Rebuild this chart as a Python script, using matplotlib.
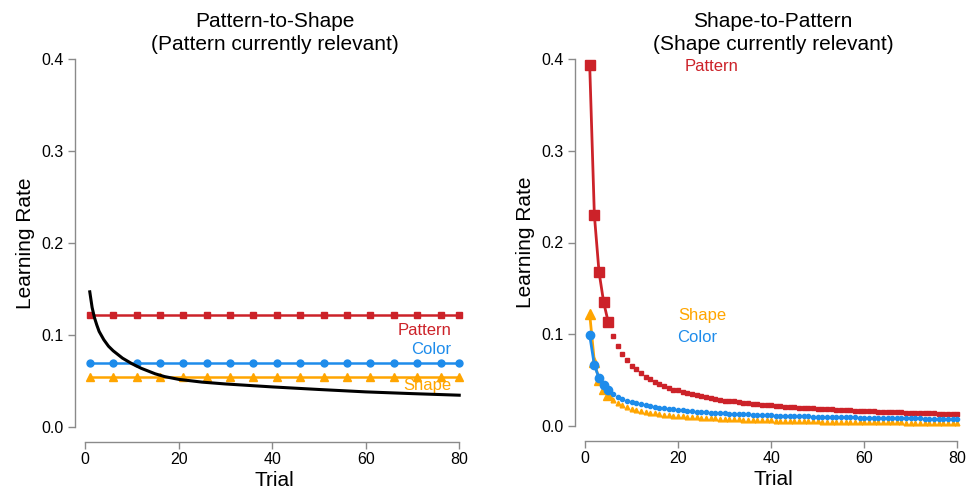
import matplotlib
matplotlib.use("Agg")
import matplotlib.pyplot as plt

plt.rcParams['font.family'] = ['Liberation Sans', 'DejaVu Sans']

# ---------------- data ----------------
RED = "#CC2229"
BLUE = "#1E8CEB"
ORANGE = "#FFA500"

# Left panel: Pattern-to-Shape
left_marker_trials = [1, 6, 11, 16, 21, 26, 31, 36, 41, 46, 51, 56, 61, 66, 71, 76, 80]
left_pattern = [0.122] * len(left_marker_trials)
left_color = [0.070] * len(left_marker_trials)
left_shape = [0.055] * len(left_marker_trials)
left_black_trials = [1, 1.5, 2, 2.5, 3, 4, 5, 6, 8, 10, 12, 15, 17, 20, 25, 30,
                     40, 50, 60, 70, 80]
left_black = [0.147, 0.130, 0.119, 0.111, 0.104, 0.095, 0.088, 0.083, 0.075,
              0.069, 0.064, 0.058, 0.055, 0.052, 0.049, 0.047, 0.0438, 0.041,
              0.0384, 0.0365, 0.0348]

# Right panel: Shape-to-Pattern (trials 1..80)
right_trials = list(range(1, 81))
right_pattern = [
    0.393, 0.230, 0.168, 0.135, 0.113, 0.098, 0.087, 0.079, 0.072, 0.066,
    0.062, 0.058, 0.054, 0.051, 0.048, 0.046, 0.044, 0.042, 0.040, 0.039,
    0.037, 0.036, 0.035, 0.034, 0.033, 0.032, 0.031, 0.030, 0.029, 0.028,
    0.0276, 0.0270, 0.0263, 0.0257, 0.0252, 0.0246, 0.0241, 0.0236, 0.0231, 0.0227,
    0.0223, 0.0219, 0.0215, 0.0211, 0.0207, 0.0204, 0.0200, 0.0197, 0.0194, 0.0191,
    0.0188, 0.0185, 0.0183, 0.0180, 0.0178, 0.0175, 0.0173, 0.0170, 0.0168, 0.0166,
    0.0164, 0.0162, 0.0160, 0.0158, 0.0156, 0.0154, 0.0152, 0.0151, 0.0149, 0.0147,
    0.0146, 0.0144, 0.0143, 0.0141, 0.0140, 0.0138, 0.0137, 0.0135, 0.0134, 0.0133]
right_color = [
    0.099, 0.0665, 0.0527, 0.0447, 0.0393, 0.0354, 0.0324, 0.0300, 0.0280, 0.0264,
    0.0250, 0.0238, 0.0227, 0.0218, 0.0209, 0.0202, 0.0195, 0.0188, 0.0183, 0.0177,
    0.0172, 0.0168, 0.0164, 0.0160, 0.0156, 0.0153, 0.0149, 0.0146, 0.0143, 0.0141,
    0.0138, 0.0135, 0.0133, 0.0131, 0.0129, 0.0127, 0.0125, 0.0123, 0.0121, 0.0119,
    0.0117, 0.0116, 0.0114, 0.0113, 0.0111, 0.0110, 0.0109, 0.0107, 0.0106, 0.0105,
    0.0104, 0.0102, 0.0101, 0.0100, 0.0099, 0.0098, 0.0097, 0.0096, 0.0095, 0.0094,
    0.0093, 0.0093, 0.0092, 0.0091, 0.0090, 0.0089, 0.0089, 0.0088, 0.0087, 0.0086,
    0.0086, 0.0085, 0.0084, 0.0084, 0.0083, 0.0082, 0.0082, 0.0081, 0.0081, 0.0080]
right_shape = [
    0.122, 0.0701, 0.0507, 0.0402, 0.0337, 0.0291, 0.0257, 0.0231, 0.0210, 0.0193,
    0.0179, 0.0167, 0.0157, 0.0148, 0.0140, 0.0133, 0.0126, 0.0121, 0.0116, 0.0111,
    0.0107, 0.0103, 0.0099, 0.0096, 0.0093, 0.0090, 0.0087, 0.0085, 0.0082, 0.0080,
    0.0078, 0.0076, 0.0074, 0.0073, 0.0071, 0.0069, 0.0068, 0.0066, 0.0065, 0.0064,
    0.0063, 0.0061, 0.0060, 0.0059, 0.0058, 0.0057, 0.0056, 0.0055, 0.0054, 0.0053,
    0.0052, 0.0052, 0.0051, 0.0050, 0.0049, 0.0049, 0.0048, 0.0047, 0.0047, 0.0046,
    0.0045, 0.0045, 0.0044, 0.0044, 0.0043, 0.0043, 0.0042, 0.0042, 0.0041, 0.0041,
    0.0040, 0.0040, 0.0039, 0.0039, 0.0039, 0.0038, 0.0038, 0.0037, 0.0037, 0.0037]
n_early = 5  # trials drawn with line + large markers

x_ticks = [0, 20, 40, 60, 80]
y_ticks = [0.0, 0.1, 0.2, 0.3, 0.4]
y_ticklabels = ["0.0", "0.1", "0.2", "0.3", "0.4"]

# ---------------- figure ----------------
W, H = 978, 492
fig = plt.figure(figsize=(W / 100, H / 100), dpi=100)

def px_axes(l, t, r, b):
    return fig.add_axes([l / W, 1 - b / H, (r - l) / W, (b - t) / H])

axL = px_axes(75, 44, 474, 442)
axR = px_axes(575, 44, 972, 441)

SPINE = "#8a8a8a"

def style(ax):
    ax.set_xlim(-2.16, 83.16)
    ax.set_ylim(-0.016, 0.416)
    for s in ["top", "right"]:
        ax.spines[s].set_visible(False)
    ax.spines["left"].set_bounds(0, 0.4)
    ax.spines["bottom"].set_bounds(0, 80)
    for s in ["left", "bottom"]:
        ax.spines[s].set_color(SPINE)
        ax.spines[s].set_linewidth(1.0)
    ax.set_xticks(x_ticks)
    ax.set_yticks(y_ticks)
    ax.set_yticklabels(y_ticklabels)
    ax.tick_params(axis="both", colors=SPINE, labelcolor="black",
                   labelsize=11.5, length=5, width=1.0, direction="out")
    ax.tick_params(axis="y", pad=3)
    ax.tick_params(axis="x", pad=2)
    ax.set_xlabel("Trial", fontsize=15, labelpad=3)
    ax.set_ylabel("Learning Rate", fontsize=15, labelpad=5)

style(axL)
style(axR)

# Left panel
axL.plot(left_black_trials, left_black, color="black", lw=2.2, zorder=4)
axL.plot(left_marker_trials, left_pattern, color=RED, lw=1.8, marker="s", ms=5, zorder=3)
axL.plot(left_marker_trials, left_color, color=BLUE, lw=1.8, marker="o", ms=5, zorder=3)
axL.plot(left_marker_trials, left_shape, color=ORANGE, lw=1.8, marker="^", ms=5.5, zorder=3)
axL.text(78.3, 0.1054, "Pattern", color=RED, fontsize=12, ha="right", va="center")
axL.text(78.3, 0.0848, "Color", color=BLUE, fontsize=12, ha="right", va="center")
axL.text(78.3, 0.0457, "Shape", color=ORANGE, fontsize=12, ha="right", va="center")

# Right panel
early = right_trials[:n_early]
late = right_trials[n_early:]
axR.plot(early, right_pattern[:n_early], color=RED, lw=2, marker="s", ms=6.5, zorder=3)
axR.plot(late, right_pattern[n_early:], ls="none", color=RED, marker="s", ms=3, zorder=3)
axR.plot(early, right_color[:n_early], color=BLUE, lw=2, marker="o", ms=6, zorder=4)
axR.plot(late, right_color[n_early:], ls="none", color=BLUE, marker="o", ms=3, zorder=4)
axR.plot(early, right_shape[:n_early], color=ORANGE, lw=2, marker="^", ms=7, zorder=3)
axR.plot(late, right_shape[n_early:], ls="none", color=ORANGE, marker="^", ms=3.4, zorder=3)
axR.text(27.1, 0.391, "Pattern", color=RED, fontsize=12, ha="center", va="center")
axR.text(25.2, 0.121, "Shape", color=ORANGE, fontsize=12, ha="center", va="center")
axR.text(24.1, 0.097, "Color", color=BLUE, fontsize=12, ha="center", va="center")

# Titles
fig.text(274.5 / W, 1 - 33 / H, "Pattern-to-Shape\n(Pattern currently relevant)",
         ha="center", va="center", fontsize=15, linespacing=1.22)
fig.text(773 / W, 1 - 33 / H, "Shape-to-Pattern\n(Shape currently relevant)",
         ha="center", va="center", fontsize=15, linespacing=1.22)

fig.savefig("out.png", dpi=100)
